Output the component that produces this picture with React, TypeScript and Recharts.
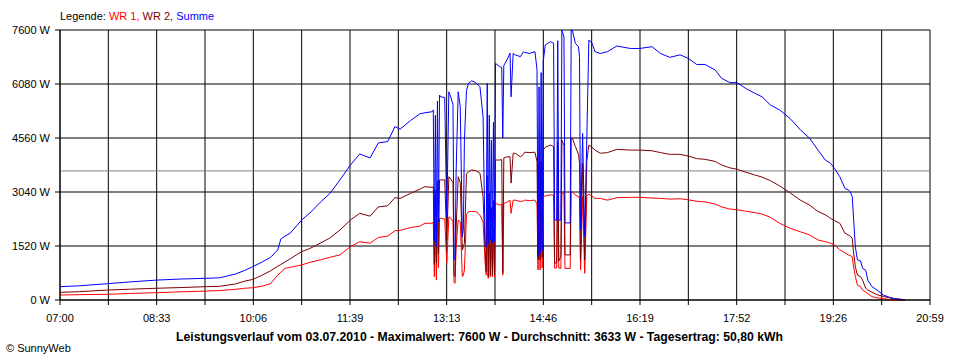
import React from "react";
import { LineChart, Line, XAxis, YAxis, CartesianGrid, ReferenceLine } from "recharts";

// ---- data ----
const times = [
  "07:00","07:19","07:46","08:08","08:33","08:56","09:20","09:34","09:49","09:58",
  "10:06","10:15","10:23","10:30","10:33","10:37","10:42","10:53","11:01","11:11",
  "11:20","11:30","11:40","11:49","11:59","12:07","12:16","12:23","12:28","12:38",
  "12:47","12:52","12:59","13:00","13:01","13:02","13:03","13:04","13:05","13:06",
  "13:07","13:11","13:13","13:15","13:17","13:19","13:20","13:21","13:22","13:24",
  "13:26","13:28","13:29","13:30","13:32","13:34","13:37","13:41","13:45","13:48",
  "13:50","13:51","13:52","13:53","13:54","13:55","13:56","13:57","13:58","13:59",
  "14:00","14:04","14:06","14:07","14:08","14:11","14:14","14:15","14:17","14:19",
  "14:24","14:27","14:28","14:33","14:38","14:40","14:41","14:42","14:43","14:44",
  "14:45","14:46","14:48","14:53","14:56","14:57","14:59","15:00","15:01","15:03",
  "15:04","15:06","15:07","15:12","15:13","15:14","15:17","15:20","15:21","15:22",
  "15:24","15:26","15:28","15:30","15:33","15:36","15:41","15:48","15:57","16:10",
  "16:19","16:31","16:39","16:48","16:58","17:06","17:14","17:22","17:32","17:38",
  "17:46","17:53","18:01","18:10","18:17","18:25","18:34","18:44","18:54","19:03",
  "19:11","19:18","19:23","19:27","19:32","19:37","19:40","19:42","19:44","19:45",
  "19:47","19:49","19:52","19:54","19:57","19:59","20:03","20:08","20:14","20:20",
  "20:25","20:30","20:35",
];

const wr1 = [
  140,150,160,185,205,230,250,265,300,330,
  345,390,460,700,780,890,920,985,1060,1130,
  1200,1270,1500,1640,1600,1760,1800,1950,1960,2040,
  2080,2160,2160,2200,650,2100,560,2250,900,2300,
  2300,2280,1040,2340,2300,2200,500,470,1500,2250,
  2200,660,700,845,2400,2490,2490,2490,2390,2200,
  1040,700,2450,610,2000,650,1800,660,2000,650,
  2720,2670,2700,700,2720,2750,2810,2440,2810,2810,
  2770,2790,2810,2800,2810,2700,845,2500,845,2600,
  900,2910,2930,2960,2950,900,900,3000,900,890,
  3020,3000,890,890,3050,3050,2950,2910,2860,845,
  2910,750,2930,2980,2920,2860,2860,2810,2880,2890,
  2890,2870,2860,2840,2850,2820,2780,2760,2700,2620,
  2560,2540,2500,2460,2420,2330,2160,2020,1920,1830,
  1690,1640,1600,1550,1410,1330,1270,1250,1220,985,
  660,420,375,280,220,180,95,60,40,10,
  0,0,0,
];

const wr2 = [
  215,235,280,305,330,350,375,385,450,530,
  580,700,820,950,1000,1070,1160,1360,1450,1600,
  1740,1970,2250,2440,2360,2620,2650,2880,2860,3000,
  3120,3190,3170,3190,1000,3100,1040,3350,1300,3380,
  3380,3380,1690,3470,3400,3300,700,660,2000,3470,
  3300,1410,1500,1600,3550,3610,3660,3640,3570,2910,
  1410,800,3500,660,3000,700,2600,700,2800,720,
  3940,3940,3950,760,4000,4030,4030,3290,4130,4130,
  4030,4100,4160,4150,4160,3900,1130,3800,1130,3900,
  1200,4220,4300,4360,4320,1040,1040,4450,1100,1220,
  4500,4350,1270,1270,4550,4560,4320,4100,3850,1130,
  3850,1130,3900,4360,4300,4220,4130,4150,4240,4220,
  4220,4200,4150,4100,4100,4050,3980,3960,3900,3800,
  3720,3680,3600,3520,3460,3360,3210,3020,2810,2670,
  2490,2400,2300,2230,2160,1880,1830,1800,1740,1410,
  940,700,660,560,330,280,220,150,100,60,
  20,0,0,
];

const summe = [
  375,400,460,510,560,590,610,625,730,830,
  940,1070,1200,1410,1720,1800,1880,2250,2450,2750,
  2990,3380,3800,4110,4000,4420,4460,4880,4810,5050,
  5240,5270,5300,5350,1650,5200,1500,5600,2200,5770,
  5720,5700,2340,5860,5700,5500,1200,1130,3600,5860,
  5440,1780,2000,4500,5900,6100,6170,6120,6000,5160,
  1500,1500,6100,1600,5200,1700,4500,1600,5000,1650,
  6660,6570,6550,4560,6600,6760,6950,5720,6940,6900,
  6850,6990,6970,6940,6990,6500,1220,6000,1300,6400,
  1400,6710,7180,7270,7230,2250,2250,7300,2250,2250,
  7600,7400,2170,2170,7600,7600,7230,7130,6850,1970,
  4690,1780,4500,7320,7230,6990,6940,6990,7150,7080,
  7080,7130,6940,6830,6900,6800,6630,6630,6470,6240,
  6120,6120,5960,5820,5720,5490,5350,5110,4790,4550,
  4220,3940,3850,3700,3470,3140,3100,3050,2910,2440,
  1500,1130,1100,890,840,560,375,280,140,75,
  40,28,0,
];

const xTickLabels = ["07:00","08:33","10:06","11:39","13:13","14:46","16:19","17:52","19:26","20:59"];
const yTicks = [0, 1520, 3040, 4560, 6080, 7600];
const averageW = 3633;
const maxW = 7600;
const dateLabel = "03.07.2010";
const dailyYield = "50,80 kWh";

// ---- derived ----
const toMin = (s: string) => {
  const [h, m] = s.split(":").map(Number);
  return (h - 7) * 60 + m;
};
const endMin = toMin(xTickLabels[xTickLabels.length - 1]);
const data = times.map((s, i) => ({ t: toMin(s), wr1: wr1[i], wr2: wr2[i], summe: summe[i] }));
const xTicks = Array.from({ length: 19 }, (_, i) => (i * endMin) / 18);

const FONT = "'Liberation Sans', Arial, sans-serif";

const XTick = (props: any) => {
  const { x, y, payload } = props;
  const idx = Math.round((payload.value * 18) / endMin);
  const label = idx % 2 === 0 ? xTickLabels[idx / 2] : "";
  return (
    <text x={x} y={y + 17} textAnchor="middle" fontFamily={FONT} fontSize={11} fill="#000">
      {label}
    </text>
  );
};

const YTick = (props: any) => {
  const { x, y, payload } = props;
  return (
    <text x={x - 5} y={y + 4} textAnchor="end" fontFamily={FONT} fontSize={11} fill="#000">
      {`${payload.value} W`}
    </text>
  );
};

export default function App() {
  return (
    <div style={{ position: "absolute", left: 0, top: 0, width: 960, height: 360, background: "#fff" }}>
      <div style={{ position: "absolute", left: 0, top: 0 }}>
        <LineChart width={960} height={360} data={data} margin={{ top: 30, right: 30, bottom: 30, left: 0 }}>
          <CartesianGrid stroke="#000" strokeWidth={1} />
          <XAxis
            type="number"
            dataKey="t"
            domain={[0, endMin]}
            ticks={xTicks}
            interval={0}
            height={30}
            tickSize={5}
            tickMargin={0}
            tick={<XTick />}
            tickLine={{ stroke: "#000" }}
            axisLine={{ stroke: "#000" }}
            allowDataOverflow
          />
          <YAxis
            type="number"
            domain={[0, maxW]}
            ticks={yTicks}
            interval={0}
            width={60}
            tickSize={5}
            tickMargin={0}
            tick={<YTick />}
            tickLine={{ stroke: "#000" }}
            axisLine={{ stroke: "#000" }}
          />
          <ReferenceLine y={averageW} stroke="#808080" strokeWidth={1} />
          <Line type="linear" dataKey="wr1" stroke="#ff0000" strokeWidth={1} dot={false} isAnimationActive={false} />
          <Line type="linear" dataKey="wr2" stroke="#800000" strokeWidth={1} dot={false} isAnimationActive={false} />
          <Line type="linear" dataKey="summe" stroke="#0000ff" strokeWidth={1} dot={false} isAnimationActive={false} />
        </LineChart>
      </div>
      <svg width={960} height={360} style={{ position: "absolute", left: 0, top: 0, pointerEvents: "none" }}>
        <text x={60} y={20} fontFamily={FONT} fontSize={11}>
          <tspan fill="#000">Legende: </tspan>
          <tspan fill="#ff0000">WR 1, </tspan>
          <tspan fill="#800000">WR 2, </tspan>
          <tspan fill="#0000ff">Summe</tspan>
        </text>
        <text
          x={176}
          y={341}
          textLength={607}
          lengthAdjust="spacingAndGlyphs"
          fontFamily={FONT}
          fontSize={12}
          fontWeight="bold"
          fill="#000"
        >
          {`Leistungsverlauf vom ${dateLabel} - Maximalwert: ${maxW} W - Durchschnitt: ${averageW} W - Tagesertrag: ${dailyYield}`}
        </text>
        <text x={6} y={352} fontFamily={FONT} fontSize={11} fill="#000">
          © SunnyWeb
        </text>
      </svg>
    </div>
  );
}
